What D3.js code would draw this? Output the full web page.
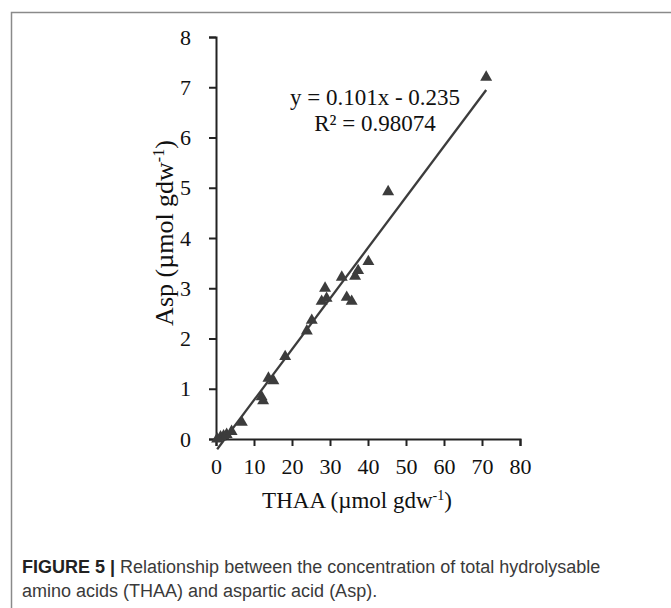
<!DOCTYPE html>
<html>
<head>
<meta charset="utf-8">
<script src="https://cdn.jsdelivr.net/npm/d3@7"></script>
<style>
  body { margin: 0; background: #fff; }
  svg { display: block; }
</style>
</head>
<body>
<svg id="chart"></svg>
<script>
// data
const thaa = [0.3, 1.2, 2.0, 2.8, 4.1, 6.8, 12.0, 12.4, 13.8, 15.1, 18.2, 23.9, 25.2, 27.8, 28.7, 29.1, 33.1, 34.4, 35.7, 36.6, 37.4, 40.1, 45.3, 71.1]
const asp  = [0.0, 0.04, 0.06, 0.09, 0.15, 0.33, 0.84, 0.76, 1.21, 1.16, 1.64, 2.15, 2.36, 2.74, 3.0, 2.8, 3.22, 2.82, 2.74, 3.24, 3.35, 3.53, 4.92, 7.2]
const xTicks = [0, 10, 20, 30, 40, 50, 60, 70, 80]
const yTicks = [0, 1, 2, 3, 4, 5, 6, 7, 8]
const slope = 0.101
const intercept = -0.235
const eqText = 'y = 0.101x - 0.235'
const r2Text = 'R² = 0.98074'

const W = 671, H = 608
const svg = d3.select('#chart').attr('width', W).attr('height', H)

// frame of the figure panel
svg.append('path')
  .attr('d', `M11.5,${H} L11.5,12.5 L${W},12.5`)
  .attr('fill', 'none')
  .attr('stroke', '#8a8a8a')
  .attr('stroke-width', 1.5)

const x = d3.scaleLinear().domain([0, 80]).range([216, 520])
const y = d3.scaleLinear().domain([0, 8]).range([439, 37])

const serif = '"Liberation Serif", "Times New Roman", serif'

// axes
const gx = svg.append('g')
  .attr('transform', `translate(0,${y(0)})`)
  .call(d3.axisBottom(x).tickValues(xTicks).tickSize(7).tickPadding(12))
const gy = svg.append('g')
  .attr('transform', `translate(${x(0)},0)`)
  .call(d3.axisLeft(y).tickValues(yTicks).tickSize(7).tickPadding(18))

for (const g of [gx, gy]) {
  g.select('.domain').attr('stroke', '#222').attr('stroke-width', 2)
  g.selectAll('.tick line').attr('stroke', '#222').attr('stroke-width', 2)
  g.selectAll('.tick text')
    .attr('fill', '#111')
    .style('font-family', serif)
    .style('font-size', '22px')
}

// axis titles
const xt = svg.append('text')
  .attr('x', 357).attr('y', 508)
  .attr('text-anchor', 'middle')
  .style('font-family', serif).style('font-size', '23px').attr('fill', '#111')
xt.append('tspan').text('THAA (µmol gdw')
xt.append('tspan').attr('dy', -8).style('font-size', '14px').text('-1')
xt.append('tspan').attr('dy', 8).text(')')

const yt = svg.append('text')
  .attr('transform', 'translate(173,233) rotate(-90)')
  .attr('text-anchor', 'middle')
  .style('font-family', serif).style('font-size', '26px').attr('fill', '#111')
yt.append('tspan').text('Asp (µmol gdw')
yt.append('tspan').attr('dy', -9).style('font-size', '16px').text('-1')
yt.append('tspan').attr('dy', 9).text(')')

// trend line
const x0 = d3.min(thaa), x1 = d3.max(thaa)
svg.append('line')
  .attr('x1', x(x0)).attr('y1', y(slope * x0 + intercept))
  .attr('x2', x(x1)).attr('y2', y(slope * x1 + intercept))
  .attr('stroke', '#3c3c3c')
  .attr('stroke-width', 2.3)

// points
const pts = thaa.map((v, i) => [v, asp[i]])
svg.append('g').selectAll('path')
  .data(pts)
  .enter()
  .append('path')
  .attr('d', d3.symbol().type(d3.symbolTriangle).size(62))
  .attr('transform', d => `translate(${x(d[0])},${y(d[1])})`)
  .attr('fill', '#3c3c3c')

// equation
svg.append('text')
  .attr('x', 375).attr('y', 105)
  .attr('text-anchor', 'middle')
  .style('font-family', serif).style('font-size', '23px').attr('fill', '#111')
  .text(eqText)
svg.append('text')
  .attr('x', 375).attr('y', 131)
  .attr('text-anchor', 'middle')
  .style('font-family', serif).style('font-size', '23px').attr('fill', '#111')
  .text(r2Text)

// caption
const sans = '"Liberation Sans", Arial, sans-serif'
const cap = svg.append('text')
  .attr('x', 22).attr('y', 573)
  .style('font-family', sans).style('font-size', '18px').attr('fill', '#3a3a3a')
cap.append('tspan').style('font-weight', 'bold').attr('fill', '#222').text('FIGURE 5 | ')
cap.append('tspan').text('Relationship between the concentration of total hydrolysable')
svg.append('text')
  .attr('x', 22).attr('y', 597)
  .style('font-family', sans).style('font-size', '18px').attr('fill', '#3a3a3a')
  .text('amino acids (THAA) and aspartic acid (Asp).')
</script>
</body>
</html>
